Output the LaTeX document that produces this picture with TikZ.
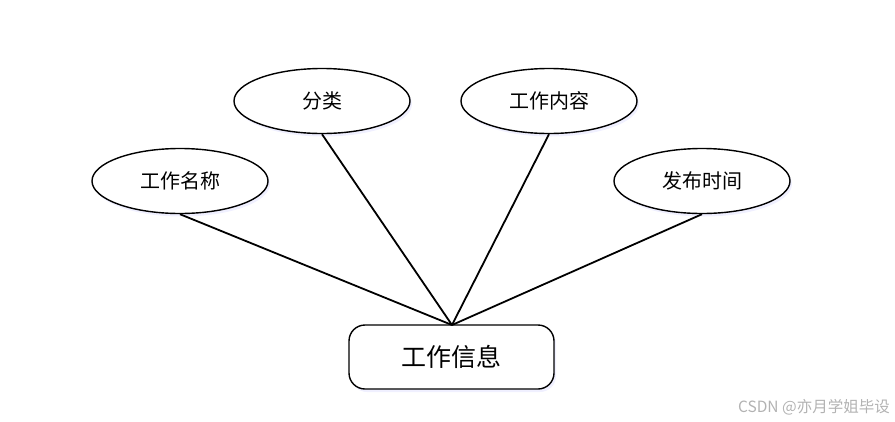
\documentclass[tikz,border=0pt]{standalone}
\usepackage{fontspec}
\newfontfamily\cjk{Noto Sans CJK SC}
\usetikzlibrary{shapes.geometric,shadows}
\begin{document}
\begin{tikzpicture}[x=1pt,y=-1pt,
  attr/.style={ellipse,draw=black,line width=1.4pt,fill=white,minimum width=176pt,minimum height=65pt,inner sep=0pt,
    font=\cjk\fontsize{20}{20}\selectfont,
    drop shadow={shadow xshift=2pt,shadow yshift=-3pt,fill=blue!6,opacity=1}},
  ent/.style={rectangle,rounded corners=16pt,draw=black,line width=1.4pt,fill=white,minimum width=205pt,minimum height=64pt,inner sep=0pt,
    font=\cjk\fontsize{25}{25}\selectfont,
    drop shadow={shadow xshift=2pt,shadow yshift=-3pt,fill=blue!6,opacity=1}},
  link/.style={line width=1.8pt,black}]
\useasboundingbox (0,0) rectangle (895,421);
\node[attr] (name) at (180,181) {工作名称};
\node[attr] (cat) at (322,101) {分类};
\node[attr] (content) at (549,101) {工作内容};
\node[attr] (time) at (702,181) {发布时间};
\node[ent] (info) at (451.5,357) {工作信息};
\coordinate (hub) at (452,325);
\draw[link] (name.south) -- (hub);
\draw[link] (cat.south) -- (hub);
\draw[link] (content.south) -- (hub);
\draw[link] (time.south) -- (hub);
\node[font=\cjk\fontsize{15.5}{15.5}\selectfont,text=black!30,anchor=east,inner sep=0pt] (wm) at (890,407) {CSDN @亦月学姐毕设};
\end{tikzpicture}
\end{document}
